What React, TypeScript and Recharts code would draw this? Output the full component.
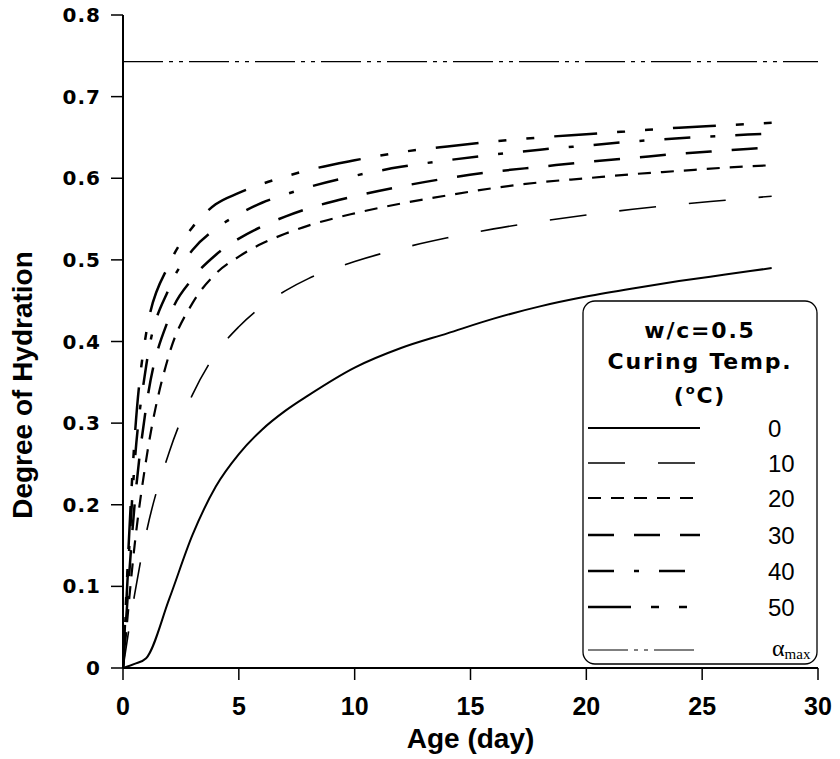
import React from 'react';
import { LineChart, Line, XAxis, YAxis, Legend } from 'recharts';

// Age (day)
const DAYS = [0, 0.5, 1, 2, 3, 4, 5, 6, 7, 8, 10, 12, 14, 16, 18, 20, 22, 24, 26, 28, 30];
// Degree of hydration for each curing temperature (w/c = 0.5)
const T0 = [0, 0.005, 0.012, 0.085, 0.163, 0.222, 0.262, 0.292, 0.315, 0.334, 0.368, 0.392, 0.41, 0.428, 0.443, 0.455, 0.465, 0.474, 0.482, 0.49];
const T10 = [0, 0.09, 0.165, 0.265, 0.335, 0.385, 0.418, 0.443, 0.462, 0.477, 0.498, 0.514, 0.527, 0.538, 0.547, 0.555, 0.562, 0.568, 0.573, 0.578];
const T20 = [0, 0.15, 0.255, 0.385, 0.447, 0.483, 0.504, 0.52, 0.532, 0.542, 0.557, 0.569, 0.579, 0.588, 0.595, 0.6, 0.605, 0.609, 0.613, 0.616];
const T30 = [0, 0.2, 0.32, 0.43, 0.477, 0.506, 0.526, 0.541, 0.553, 0.563, 0.578, 0.59, 0.6, 0.608, 0.614, 0.62, 0.625, 0.63, 0.634, 0.638];
const T40 = [0, 0.25, 0.37, 0.466, 0.512, 0.538, 0.556, 0.57, 0.58, 0.589, 0.603, 0.614, 0.622, 0.629, 0.635, 0.64, 0.645, 0.649, 0.652, 0.655];
const T50 = [0, 0.28, 0.41, 0.495, 0.54, 0.568, 0.582, 0.593, 0.602, 0.61, 0.622, 0.632, 0.639, 0.645, 0.65, 0.654, 0.658, 0.662, 0.665, 0.668];
const AMAX = [0.743, 0.743, 0.743, 0.743, 0.743, 0.743, 0.743, 0.743, 0.743, 0.743, 0.743, 0.743, 0.743, 0.743, 0.743, 0.743, 0.743, 0.743, 0.743, 0.743, 0.743];

const X_TICKS = [0, 5, 10, 15, 20, 25, 30];
const Y_TICKS = [0, 0.1, 0.2, 0.3, 0.4, 0.5, 0.6, 0.7, 0.8];
const SERIES_LABELS = ['0', '10', '20', '30', '40', '50'];
const LEGEND_TITLE = ['w/c=0.5', 'Curing Temp.'];

const data = DAYS.map((d, i) => ({
  day: d,
  t0: T0[i],
  t10: T10[i],
  t20: T20[i],
  t30: T30[i],
  t40: T40[i],
  t50: T50[i],
  amax: AMAX[i],
}));

const STYLES = [
  { key: 't0', dash: undefined, width: 2 },
  { key: 't10', dash: '37 33', width: 1.6 },
  { key: 't20', dash: '13 10', width: 2.2 },
  { key: 't30', dash: '26 20', width: 2.5 },
  { key: 't40', dash: '26 20 5 20', width: 2.5 },
  { key: 't50', dash: '43 20 8 20 8 20', width: 2.5 },
];
const AMAX_STYLE = { dash: '40 6 4 6 4 6', width: 1.2 };

const TITLE_FONT = { fontFamily: 'DejaVu Sans', fontWeight: 'bold' as const, fontSize: 22, letterSpacing: 1.8 };

const LegendBox = () => {
  const rowY = [128, 163, 198, 235, 271, 307];
  return (
    <svg width={236} height={365} style={{ display: 'block' }}>
      <rect x={1} y={1} width={234} height={363} rx={12} ry={12} fill="#fff" stroke="#000" strokeWidth={1.3} />
      <text x={118} y={38} textAnchor="middle" {...TITLE_FONT}>
        {LEGEND_TITLE[0]}
      </text>
      <text x={118} y={69} textAnchor="middle" {...TITLE_FONT}>
        {LEGEND_TITLE[1]}
      </text>
      <text x={118} y={103} textAnchor="middle" {...TITLE_FONT}>
        (<tspan fontSize={13} dy={-9}>o</tspan><tspan dy={9}>C)</tspan>
      </text>
      {STYLES.map((s, i) => (
        <g key={s.key}>
          <line x1={6} x2={118} y1={rowY[i]} y2={rowY[i]} stroke="#000" strokeWidth={s.width} strokeDasharray={s.dash} />
          <text x={186} y={rowY[i] + 9} fontFamily="Liberation Sans, Arial, sans-serif" fontSize={24}>
            {SERIES_LABELS[i]}
          </text>
        </g>
      ))}
      <line x1={6} x2={118} y1={350} y2={350} stroke="#000" strokeWidth={AMAX_STYLE.width} strokeDasharray={AMAX_STYLE.dash} />
      <text x={190} y={356} fontFamily="Liberation Serif, Times New Roman, serif" fontSize={24}>
        α<tspan fontSize={15} dy={3}>max</tspan>
      </text>
    </svg>
  );
};

const YLabel = () => (
  <text
    x={32}
    y={385}
    transform="rotate(-90, 32, 385)"
    textAnchor="middle"
    fontFamily="Liberation Sans, Arial, sans-serif"
    fontWeight="bold"
    fontSize={28}
    fill="#000"
  >
    Degree of Hydration
  </text>
);

export default function App() {
  return (
    <div style={{ position: 'absolute', left: 0, top: 0, width: 840, height: 759, background: '#fff' }}>
      <LineChart width={840} height={759} data={data} margin={{ top: 15, right: 22, bottom: 0, left: 0 }}>
        <XAxis
          dataKey="day"
          type="number"
          domain={[0, 30]}
          ticks={X_TICKS}
          allowDataOverflow
          height={91}
          tickSize={12}
          tickMargin={17}
          axisLine={{ stroke: '#000', strokeWidth: 2 }}
          tickLine={{ stroke: '#000', strokeWidth: 1.5 }}
          tick={{ fill: '#000', fontFamily: 'Liberation Sans, Arial, sans-serif', fontWeight: 'bold', fontSize: 25 }}
          label={{
            value: 'Age (day)',
            position: 'insideBottom',
            offset: 11,
            style: { fill: '#000', fontFamily: 'Liberation Sans, Arial, sans-serif', fontWeight: 'bold', fontSize: 28 },
          }}
        />
        <XAxis
          xAxisId="top"
          orientation="top"
          dataKey="day"
          type="number"
          domain={[0, 30]}
          height={0}
          tick={false}
          tickLine={false}
          axisLine={{ stroke: '#000', strokeWidth: 2 }}
        />
        <YAxis
          type="number"
          domain={[0, 0.8]}
          ticks={Y_TICKS}
          allowDataOverflow
          width={123}
          tickSize={12}
          tickMargin={10}
          tickFormatter={(v: number) => (v === 0 ? '0' : v.toFixed(1))}
          axisLine={{ stroke: '#000', strokeWidth: 2 }}
          tickLine={{ stroke: '#000', strokeWidth: 1.5 }}
          tick={{ fill: '#000', fontFamily: 'DejaVu Sans, sans-serif', fontWeight: 'bold', fontSize: 20, letterSpacing: 1 }}
          label={<YLabel />}
        />
        <YAxis
          yAxisId="right"
          orientation="right"
          type="number"
          domain={[0, 0.8]}
          width={0}
          tick={false}
          tickLine={false}
          axisLine={{ stroke: '#000', strokeWidth: 2 }}
        />
        {STYLES.map((s) => (
          <Line
            key={s.key}
            type="monotone"
            dataKey={s.key}
            stroke="#000"
            strokeWidth={s.width}
            strokeDasharray={s.dash}
            dot={false}
            activeDot={false}
            isAnimationActive={false}
          />
        ))}
        <Line
          type="linear"
          dataKey="amax"
          stroke="#000"
          strokeWidth={AMAX_STYLE.width}
          strokeDasharray={AMAX_STYLE.dash}
          dot={false}
          activeDot={false}
          isAnimationActive={false}
        />
        <Legend
          layout="vertical"
          align="center"
          verticalAlign="middle"
          width={236}
          height={365}
          wrapperStyle={{ left: 582, top: 300, width: 236, height: 365 }}
          content={() => <LegendBox />}
        />
      </LineChart>
    </div>
  );
}
